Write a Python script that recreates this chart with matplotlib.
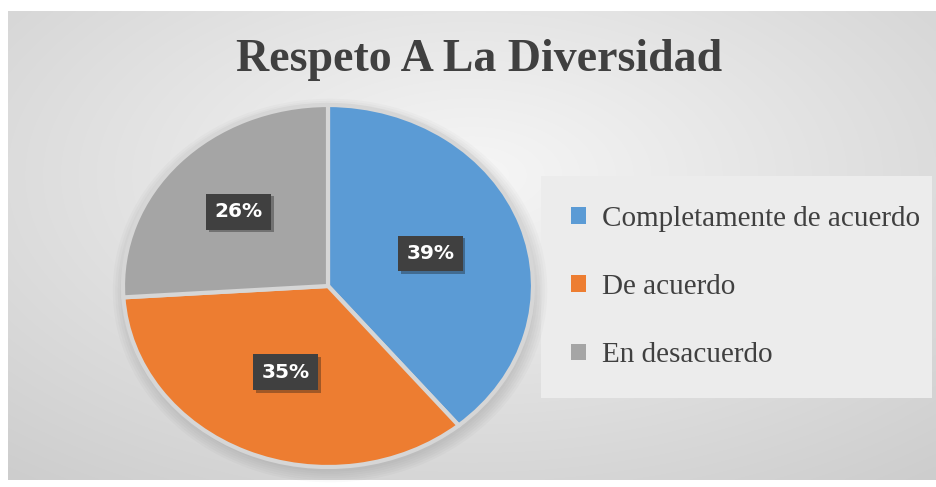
import numpy as np
import matplotlib.pyplot as plt
import matplotlib.patheffects as pe
from matplotlib.patches import Patch, Rectangle

categorias = ["Completamente de acuerdo", "De acuerdo", "En desacuerdo"]
porcentajes = [39, 35, 26]
colores = ["#5b9bd5", "#ed7d31", "#a5a5a5"]
# radial distance of each percentage label inside its slice
dist_etiqueta = [0.53, 0.52, 0.60]

fig = plt.figure(figsize=(9.36, 4.87), dpi=100)
fig.patch.set_facecolor("white")

# chart area with a soft radial gradient
bg = fig.add_axes([8 / 936, 7 / 487, 928 / 936, 469 / 487])
yy, xx = np.mgrid[-1:1:300j, -1:1:600j]
r = np.sqrt((xx * 0.85) ** 2 + ((yy + 0.3) * 0.8) ** 2)
gris = np.clip(0.965 - 0.12 * r, 0, 1)
bg.imshow(np.dstack([gris] * 3), aspect="auto", extent=[0, 1, 0, 1],
          interpolation="bicubic")
bg.set_xlim(0, 1)
bg.set_ylim(0, 1)
bg.axis("off")

bg.text(0.508, 0.895, "Respeto A La Diversidad", ha="center", va="center",
        fontsize=33, fontweight="bold", family="Liberation Serif", color="#404040")

# legend panel
bg.add_patch(Rectangle((533 / 928, (480 - 398) / 469), 391 / 928, 222 / 469,
                       facecolor="#ececec", edgecolor="none", zorder=2))

ax = fig.add_axes([123 / 936, 20 / 487, 410 / 936, 362 / 487])

# faint drop shadow under the pie
t = np.linspace(0, 2 * np.pi, 200)
for k in range(6):
    s = 1.0 + 0.012 * k
    ax.fill(s * np.cos(t) + 0.01, s * np.sin(t) - 0.025, color="black",
            alpha=0.02, lw=0, clip_on=False)

wedges, _ = ax.pie(porcentajes, colors=colores, startangle=90, counterclock=False,
                   radius=1.0, wedgeprops=dict(edgecolor="#d6d6d6", linewidth=3))
ax.set_aspect("auto")
ax.set_xlim(-1.0, 1.0)
ax.set_ylim(-1.0, 1.0)
ax.axis("off")

for w, p, d in zip(wedges, porcentajes, dist_etiqueta):
    ang = np.deg2rad((w.theta1 + w.theta2) / 2)
    x, y = d * np.cos(ang), d * np.sin(ang)
    txt = ax.text(x, y, f"{p}%", ha="center", va="center", fontsize=14.5,
                  fontweight="bold", color="white",
                  bbox=dict(boxstyle="square,pad=0.42", facecolor="#404040",
                            edgecolor="none"))
    txt.get_bbox_patch().set_path_effects(
        [pe.SimplePatchShadow(offset=(2, -2), alpha=0.35), pe.Normal()])

handles = [Patch(facecolor=c, edgecolor="none") for c in colores]
leg = fig.legend(handles, categorias, loc="center left",
                 bbox_to_anchor=(545 / 936, (487 - 287) / 487), frameon=False,
                 prop=dict(family="Liberation Serif", size=21),
                 labelspacing=1.45, handlelength=0.5, handleheight=0.5,
                 handletextpad=0.55)
for txt in leg.get_texts():
    txt.set_color("#404040")

fig.savefig("out.png", dpi=100)
